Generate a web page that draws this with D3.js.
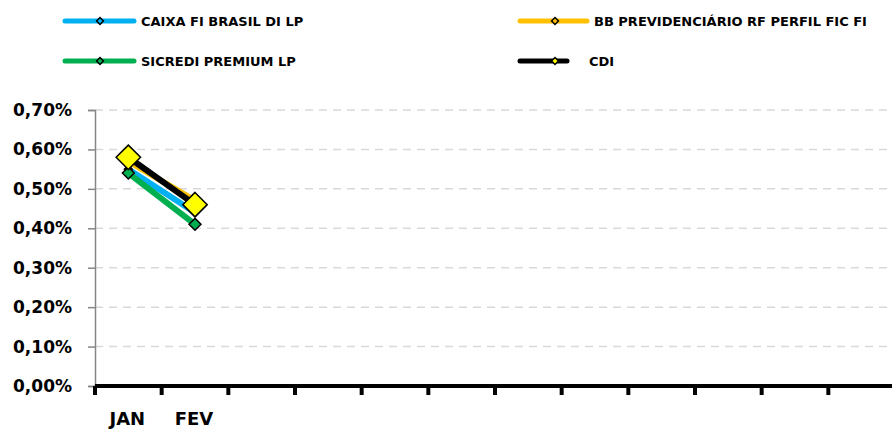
<!DOCTYPE html>
<html>
<head>
<meta charset="utf-8">
<script src="https://cdn.jsdelivr.net/npm/d3@7"></script>
<style>
  body { margin: 0; background: #fff; }
  text { font-family: "DejaVu Sans", sans-serif; font-weight: bold; fill: #000; }
</style>
</head>
<body>
<svg id="chart"></svg>
<script>
// months on the x axis (only the first two have data)
const months = ['JAN', 'FEV', 'MAR', 'ABR', 'MAI', 'JUN', 'JUL', 'AGO', 'SET', 'OUT', 'NOV', 'DEZ'];
const monthLabels = ['JAN', 'FEV', '', '', '', '', '', '', '', '', '', ''];

const seriesNames = ['CAIXA FI BRASIL DI LP', 'BB PREVIDENCIÁRIO RF PERFIL FIC FI', 'SICREDI PREMIUM LP', 'CDI'];
const caixaValues = [0.55, 0.44];
const bbValues = [0.57, 0.47];
const sicrediValues = [0.54, 0.41];
const cdiValues = [0.58, 0.46];

const yTicks = [0, 0.1, 0.2, 0.3, 0.4, 0.5, 0.6, 0.7];

const width = 892, height = 431;
const margin = {top: 110, left: 95, bottom: 45};

const svg = d3.select('#chart')
    .attr('width', width)
    .attr('height', height);

const x = d3.scaleBand()
    .domain(months)
    .range([margin.left, margin.left + 800]);

const y = d3.scaleLinear()
    .domain([0, 0.7])
    .range([height - margin.bottom, margin.top]);

// gridlines
svg.append('g')
  .selectAll('line')
  .data(yTicks.slice(1))
  .join('line')
    .attr('x1', margin.left)
    .attr('x2', width)
    .attr('y1', d => y(d))
    .attr('y2', d => y(d))
    .attr('stroke', '#d9d9d9')
    .attr('stroke-width', 1.5)
    .attr('stroke-dasharray', '8,6');

// y axis (grey)
const yAxis = d3.axisLeft(y)
    .tickValues(yTicks)
    .tickSize(7)
    .tickPadding(16)
    .tickFormat(d => d3.format('.2f')(d).replace('.', ',') + '%');

const yAxisG = svg.append('g')
    .attr('transform', `translate(${margin.left},0)`)
    .call(yAxis);
yAxisG.select('.domain').attr('stroke', '#868686').attr('stroke-width', 1.5);
yAxisG.selectAll('.tick line').attr('stroke', '#868686').attr('stroke-width', 1.5);
yAxisG.selectAll('.tick text')
    .attr('font-size', 17)
    .attr('font-family', '"DejaVu Sans", sans-serif')
    .attr('font-weight', 'bold')
    .attr('fill', '#000');

// x axis (thick black, ticks between categories)
const xAxisG = svg.append('g')
    .attr('transform', `translate(0,${y(0)})`);
xAxisG.append('line')
    .attr('x1', margin.left)
    .attr('x2', width)
    .attr('stroke', '#000')
    .attr('stroke-width', 4);
xAxisG.selectAll('.xtick')
  .data(months)
  .join('line')
    .attr('class', 'xtick')
    .attr('x1', d => x(d))
    .attr('x2', d => x(d))
    .attr('y1', 0)
    .attr('y2', 9)
    .attr('stroke', '#000')
    .attr('stroke-width', 4);
xAxisG.selectAll('.xlabel')
  .data(months)
  .join('text')
    .attr('class', 'xlabel')
    .attr('x', d => x(d) + x.bandwidth() / 2 - 1)
    .attr('y', 39)
    .attr('text-anchor', 'middle')
    .attr('font-size', 18)
    .text((d, i) => monthLabels[i]);

const series = [
  {name: seriesNames[0], values: caixaValues, color: '#00b0f0', marker: '#00b0f0', size: 40},
  {name: seriesNames[1], values: bbValues, color: '#ffc000', marker: '#ffc000', size: 40},
  {name: seriesNames[2], values: sicrediValues, color: '#00b050', marker: '#00b050', size: 90},
  {name: seriesNames[3], values: cdiValues, color: '#000000', marker: '#ffff00', size: 380}
];

const line = d3.line()
    .x((d, i) => x(months[i]) + x.bandwidth() / 2)
    .y(d => y(d));

const diamond = d3.symbol().type(d3.symbolDiamond2);

series.forEach(s => {
  svg.append('path')
      .datum(s.values)
      .attr('d', line)
      .attr('fill', 'none')
      .attr('stroke', s.color)
      .attr('stroke-width', 6)
      .attr('stroke-linecap', 'round');
});

series.forEach(s => {
  svg.append('g')
    .selectAll('path')
    .data(s.values)
    .join('path')
      .attr('transform', (d, i) => `translate(${x(months[i]) + x.bandwidth() / 2},${y(d)})`)
      .attr('d', diamond.size(s.size))
      .attr('fill', s.marker)
      .attr('stroke', '#000')
      .attr('stroke-width', 1.5);
});

// legend
const legendItems = [
  {s: series[0], x1: 63, x2: 136, mx: 100, tx: 141, y: 21},
  {s: series[1], x1: 518, x2: 589, mx: 555, tx: 594, y: 21},
  {s: series[2], x1: 63, x2: 136, mx: 100, tx: 141, y: 61},
  {s: series[3], x1: 518, x2: 569, mx: 555, tx: 589, y: 61}
];

const legend = svg.append('g');
legendItems.forEach(it => {
  legend.append('line')
      .attr('x1', it.x1 + 2).attr('x2', it.x2 - 2)
      .attr('y1', it.y).attr('y2', it.y)
      .attr('stroke', it.s.color)
      .attr('stroke-width', 5)
      .attr('stroke-linecap', 'round');
  legend.append('path')
      .attr('transform', `translate(${it.mx},${it.y})`)
      .attr('d', d3.symbol().type(d3.symbolDiamond2).size(30)())
      .attr('fill', it.s.marker)
      .attr('stroke', '#000')
      .attr('stroke-width', 1.5);
  legend.append('text')
      .attr('x', it.tx)
      .attr('y', it.y)
      .attr('dy', '0.36em')
      .attr('font-size', 13)
      .text(it.s.name);
});
</script>
</body>
</html>
